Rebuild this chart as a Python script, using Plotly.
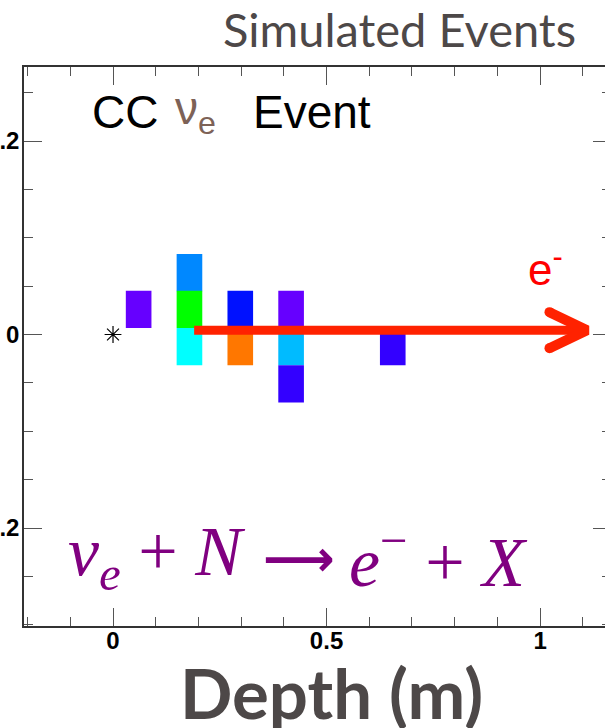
import plotly.graph_objects as go

# ---------------- data ----------------
hit_depth = [0.06, 0.179, 0.179, 0.179, 0.298, 0.298, 0.417, 0.417, 0.417, 0.655]
hit_transverse = [0.026, 0.064, 0.026, -0.0125, 0.026, -0.0125, 0.026, -0.0125, -0.051, -0.0125]
hit_color = ["#6600ff", "#0088ff", "#00ff00", "#00ffff", "#0011ff",
             "#ff7700", "#6600ff", "#00bbff", "#3300ff", "#3300ff"]
vertex_depth = [0.0]
vertex_transverse = [0.0]
track_depth = [0.19, 1.11]
track_transverse = [0.0045, 0.0045]
x_tickvals = [0, 0.5, 1]
y_tickvals = [-0.2, 0, 0.2]

# ---------------- style constants ----------------
CELL_W = 0.06
CELL_H = 0.0385
HEAD_DX = 0.088
HEAD_DY = 0.0186
TRACK_COLOR = "#ff2200"

W, H = 612, 728
PL, PR, PT, PB = 24, 611, 67, 626
X_RANGE = [-0.2084, 1.166]
Y_RANGE = [-0.3013, 0.2765]
TICK_FONT = dict(family="Liberation Sans", size=24, color="black", weight="bold")


def paper(xp, yp):
    return (xp - PL) / (PR - PL), (PB - yp) / (PB - PT)


fig = go.Figure()

# calorimeter hits
fig.add_trace(go.Bar(
    x=hit_depth,
    y=[CELL_H] * len(hit_depth),
    base=[t - CELL_H / 2 for t in hit_transverse],
    width=CELL_W,
    marker=dict(color=hit_color, line=dict(width=0)),
    hoverinfo="skip", showlegend=False,
))

# interaction vertex
fig.add_trace(go.Scatter(
    x=vertex_depth, y=vertex_transverse, mode="markers",
    marker=dict(symbol="asterisk-open", size=14, color="black",
                line=dict(color="black", width=1.2)),
    showlegend=False, hoverinfo="skip",
))

# electron track with chevron head
tip_x, tip_y = track_depth[1], track_transverse[1]
fig.add_trace(go.Scatter(
    x=[track_depth[0], tip_x - 0.012], y=[track_transverse[0], tip_y],
    mode="lines", line=dict(color=TRACK_COLOR, width=9),
    showlegend=False, hoverinfo="skip",
))
fig.add_trace(go.Scatter(
    x=[tip_x - HEAD_DX, tip_x, tip_x - HEAD_DX],
    y=[tip_y + HEAD_DY, tip_y, tip_y - HEAD_DY],
    mode="lines", line=dict(color=TRACK_COLOR, width=10),
    showlegend=False, hoverinfo="skip",
))
fig.add_trace(go.Scatter(
    x=[tip_x - HEAD_DX, tip_x - HEAD_DX],
    y=[tip_y + HEAD_DY, tip_y - HEAD_DY],
    mode="markers", marker=dict(color=TRACK_COLOR, size=10, line=dict(width=0)),
    showlegend=False, hoverinfo="skip",
))

axis_common = dict(
    showline=True, linecolor="#333333", linewidth=1.5, mirror="ticks",
    ticks="inside", ticklen=18, tickwidth=1.2, tickcolor="#555555",
    showgrid=False, zeroline=False, automargin=False,
    tickfont=TICK_FONT,
)

fig.update_xaxes(range=X_RANGE, tickmode="array", tickvals=x_tickvals,
                 ticklabelstandoff=-8,
                 minor=dict(dtick=0.1, tick0=0, ticks="inside", ticklen=9,
                            tickwidth=1.2, tickcolor="#555555"),
                 **axis_common)
fig.update_yaxes(range=Y_RANGE, tickmode="array", tickvals=y_tickvals,
                 ticklabelstandoff=-2,
                 minor=dict(dtick=0.05, tick0=0, ticks="inside", ticklen=9,
                            tickwidth=1.2, tickcolor="#555555"),
                 **axis_common)

ann = []


def add_text(text, xp, yp, size, color, family="Liberation Sans", xanchor="left",
             weight="normal"):
    x0, y0 = paper(xp, yp)
    ann.append(dict(text=text, x=x0, y=y0, xref="paper", yref="paper",
                    xanchor=xanchor, yanchor="middle", showarrow=False,
                    font=dict(family=family, size=size, color=color, weight=weight)))


# title and axis title
add_text("Simulated Events", 578, 29, 47, "#4d4848", family="Lato", xanchor="right")
add_text("Depth (m)", 331, 692, 69, "#4d4848", family="Lato", xanchor="center",
         weight="bold")
# CC nu_e Event
add_text("CC", 90, 112, 46, "black")
add_text("ν<sub>e</sub>", 173, 112, 46, "#7d6257")
add_text("Event", 251, 112, 46, "black")
# e- label
add_text("e<sup>-</sup>", 526, 266, 44, "#ff0000")
# reaction formula
PURPLE = "#800080"
add_text("<i>ν</i><sub><i>e</i></sub> + <i>N</i>", 66, 557, 70, PURPLE,
         family="Liberation Serif")
add_text("⟶", 299, 559, 50, PURPLE, family="DejaVu Sans", xanchor="center",
         weight="bold")
add_text("<i>e</i><sup>−</sup> + <i>X</i>", 530, 557, 70, PURPLE,
         family="Liberation Serif", xanchor="right")

fig.update_layout(
    width=W, height=H,
    margin=dict(l=PL, r=W - PR, t=PT, b=H - PB),
    paper_bgcolor="white", plot_bgcolor="white",
    barmode="overlay",
    annotations=ann,
    showlegend=False,
)

fig.write_html("out.html",
               post_script="document.documentElement.style.overflow='hidden';document.body.style.overflow='hidden';")
